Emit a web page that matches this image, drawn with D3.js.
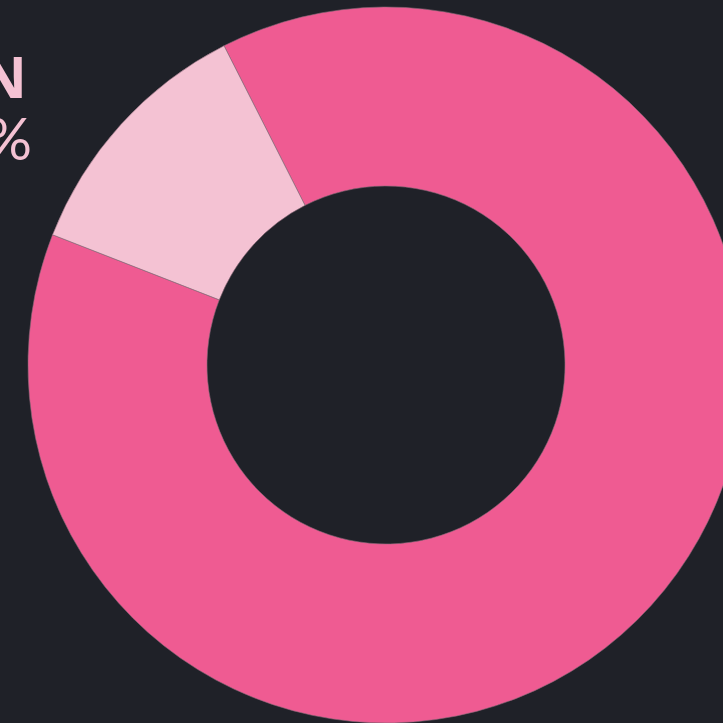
<!DOCTYPE html>
<html>
<head>
<meta charset="utf-8">
<script src="https://cdn.jsdelivr.net/npm/d3@7"></script>
<style>
  html, body { margin: 0; padding: 0; background: #1f2128; }
  svg { display: block; }
</style>
</head>
<body>
<div id="wrapper"></div>
<script>
// data
const categories = ["Other", "Donation"]
const values = [88.4, 11.6]
const colors = ["#ef5b92", "#f4c2d3"]
const highlightLabel = "DONATION"
const highlightValue = "12%"

function drawDonut() {
  const dataset = categories.map((c, i) => ({ category: c, value: values[i] }))

  let dimensions = {
    width: 723,
    height: 723,
    cx: 386,
    cy: 365,
    outerRadius: 358,
    innerRadius: 179,
  }

  const wrapper = d3.select("#wrapper")
    .append("svg")
      .attr("width", dimensions.width)
      .attr("height", dimensions.height)

  wrapper.append("rect")
    .attr("width", dimensions.width)
    .attr("height", dimensions.height)
    .attr("fill", "#1f2128")

  const bounds = wrapper.append("g")
    .attr("transform", `translate(${dimensions.cx}, ${dimensions.cy})`)

  const pie = d3.pie()
    .sort(null)
    .value(d => d.value)
    .startAngle(-26.9 * Math.PI / 180)
    .endAngle((360 - 26.9) * Math.PI / 180)

  const arc = d3.arc()
    .innerRadius(dimensions.innerRadius)
    .outerRadius(dimensions.outerRadius)

  const colorScale = d3.scaleOrdinal()
    .domain(categories)
    .range(colors)

  bounds.selectAll("path")
    .data(pie(dataset))
    .enter().append("path")
      .attr("d", arc)
      .attr("fill", d => colorScale(d.data.category))
      .attr("stroke", "#8a6a78")
      .attr("stroke-width", 0.6)

  // labels (partly cut off on the left, as in the original)
  wrapper.append("text")
    .attr("x", 27)
    .attr("y", 98)
    .attr("text-anchor", "end")
    .attr("fill", "#f4c2d3")
    .style("font-family", "'Noto Sans', 'Open Sans', sans-serif")
    .style("font-weight", 700)
    .style("font-size", "58px")
    .text(highlightLabel)

  wrapper.append("text")
    .attr("x", 32)
    .attr("y", 160)
    .attr("text-anchor", "end")
    .attr("fill", "#f4c2d3")
    .style("font-family", "Lato, 'Open Sans', sans-serif")
    .style("font-weight", 400)
    .style("font-size", "58px")
    .text(highlightValue)
}
drawDonut()
</script>
</body>
</html>
